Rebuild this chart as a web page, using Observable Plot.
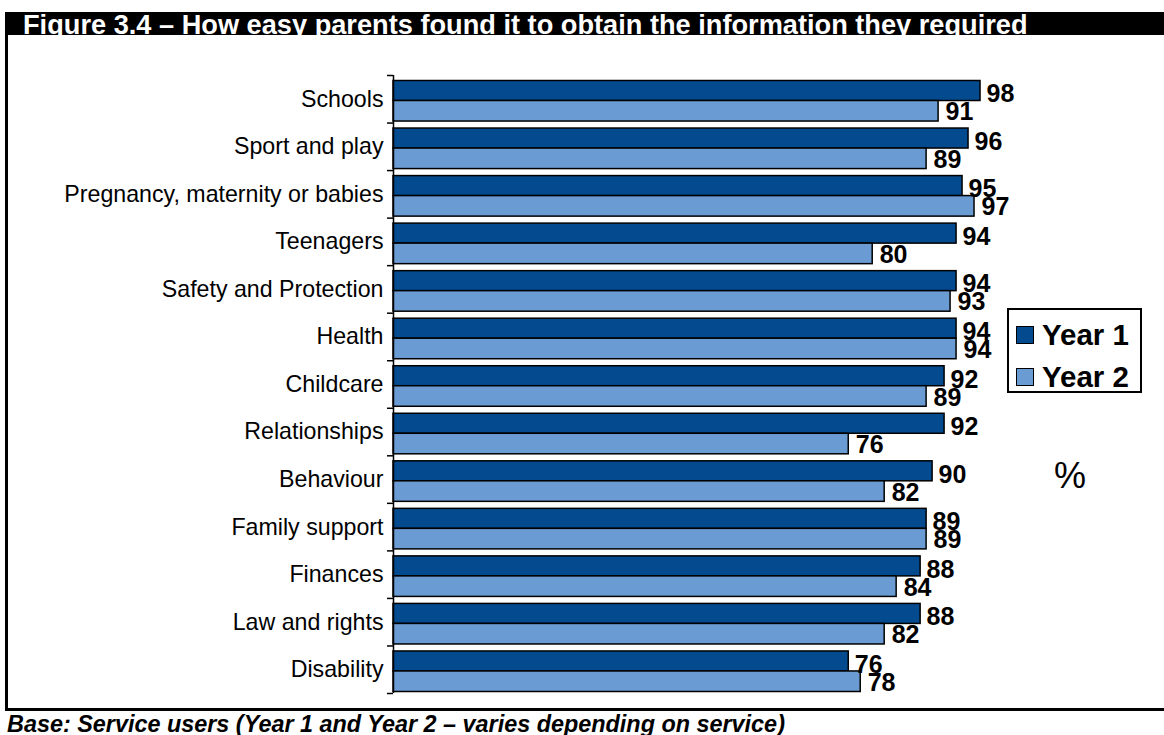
<!DOCTYPE html>
<html>
<head>
<meta charset="utf-8">
<script src="https://cdn.jsdelivr.net/npm/d3@7"></script>
<script src="https://cdn.jsdelivr.net/npm/@observablehq/plot@0.6"></script>
<style>
  html, body { margin: 0; padding: 0; background: #fff; }
  body { width: 1164px; height: 735px; position: relative; overflow: hidden;
         font-family: Arial, "Liberation Sans", sans-serif; }
  #frame { position: absolute; left: 5px; top: 12px; width: 1170px; height: 699px;
           border-left: 3px solid #000; border-bottom: 3px solid #000; box-sizing: border-box; }
  #titlebar { position: absolute; left: 5px; top: 12px; width: 1170px; height: 23px;
              background: #000; }
  #title { position: absolute; left: 18px; top: -1px; color: #fff; font-weight: bold;
           font-size: 27.2px; line-height: 27px; white-space: nowrap; }
  #chart { position: absolute; left: 0; top: 50px; }
  #chart svg { display: block; }
  #legend { position: absolute; left: 1007px; top: 308px; width: 135px; height: 85px;
            border: 2px solid #000; box-sizing: border-box; background: #fff; }
  .row { position: absolute; left: 7px; display: flex; align-items: center;
         font-weight: bold; font-size: 29.5px; line-height: 28px; white-space: nowrap; }
  .sw { width: 18px; height: 18px; border: 1.5px solid #000; box-sizing: border-box; margin-right: 8px; }
  #pct { position: absolute; left: 1054px; top: 458px; font-size: 36px; line-height: 36px; }
  #caption { position: absolute; left: 7px; top: 713px; font-weight: bold; font-style: italic;
             font-size: 23.4px; line-height: 23px; white-space: nowrap; }
</style>
</head>
<body>
<div id="frame"></div>
<div id="titlebar"><div id="title"></div></div>
<div id="chart"></div>
<div id="legend"></div>
<div id="pct">%</div>
<div id="caption"></div>
<script>
const titleText = "Figure 3.4 – How easy parents found it to obtain the information they required";
const captionText = "Base: Service users (Year 1 and Year 2 – varies depending on service)";
const categories = ["Schools", "Sport and play", "Pregnancy, maternity or babies", "Teenagers",
  "Safety and Protection", "Health", "Childcare", "Relationships", "Behaviour",
  "Family support", "Finances", "Law and rights", "Disability"];
const year1 = [98, 96, 95, 94, 94, 94, 92, 92, 90, 89, 88, 88, 76];
const year2 = [91, 89, 97, 80, 93, 94, 89, 76, 82, 89, 84, 82, 78];
const seriesNames = ["Year 1", "Year 2"];
const seriesColors = ["#034B8E", "#6A9BD3"];

document.getElementById("title").textContent = titleText;
document.getElementById("caption").textContent = captionText;

const rows1 = categories.map((c, i) => ({category: c, value: year1[i]}));
const rows2 = categories.map((c, i) => ({category: c, value: year2[i]}));

const H = 660, mTop = 25, mBottom = 17;
const bw = (H - mTop - mBottom) / categories.length;

const chart = Plot.plot({
  width: 1164,
  height: H,
  marginLeft: 393,
  marginRight: 172,
  marginTop: mTop,
  marginBottom: mBottom,
  x: {domain: [0, 100], axis: null},
  y: {domain: categories, padding: 0, round: false},
  style: {fontFamily: "Arial, 'Liberation Sans', sans-serif", color: "#000", background: "transparent"},
  marks: [
    Plot.barX(rows1, {y: "category", x: "value", fill: seriesColors[0], stroke: "#000", strokeWidth: 1.5,
      insetTop: 5.5, insetBottom: bw - 25.5}),
    Plot.barX(rows2, {y: "category", x: "value", fill: seriesColors[1], stroke: "#000", strokeWidth: 1.5,
      insetTop: 25.5, insetBottom: 1.5}),
    Plot.ruleX([0], {stroke: "#000", strokeWidth: 1.5}),
    Plot.ruleY(categories, {y: d => d, dy: -bw / 2, x1: -1, x2: 0, stroke: "#000", strokeWidth: 1.5}),
    Plot.ruleY(categories.slice(-1), {y: d => d, dy: bw / 2, x1: -1, x2: 0, stroke: "#000", strokeWidth: 1.5}),
    Plot.axisY({tickSize: 0, tickPadding: 10, fontSize: 23.2, label: null, fill: "#000"}),
    Plot.text(rows1, {y: "category", x: "value", text: d => String(d.value), dx: 6, dy: -5,
      textAnchor: "start", fontWeight: "bold", fontSize: 25, fill: "#000"}),
    Plot.text(rows2, {y: "category", x: "value", text: d => String(d.value), dx: 7, dy: 13,
      textAnchor: "start", fontWeight: "bold", fontSize: 25, fill: "#000"})
  ]
});
document.getElementById("chart").appendChild(chart);

const legend = document.getElementById("legend");
seriesNames.forEach((name, i) => {
  const row = document.createElement("div");
  row.className = "row";
  row.style.top = (i === 0 ? 11 : 53) + "px";
  const sw = document.createElement("div");
  sw.className = "sw";
  sw.style.background = seriesColors[i];
  const t = document.createElement("span");
  t.textContent = name;
  row.appendChild(sw);
  row.appendChild(t);
  legend.appendChild(row);
});
</script>
</body>
</html>
